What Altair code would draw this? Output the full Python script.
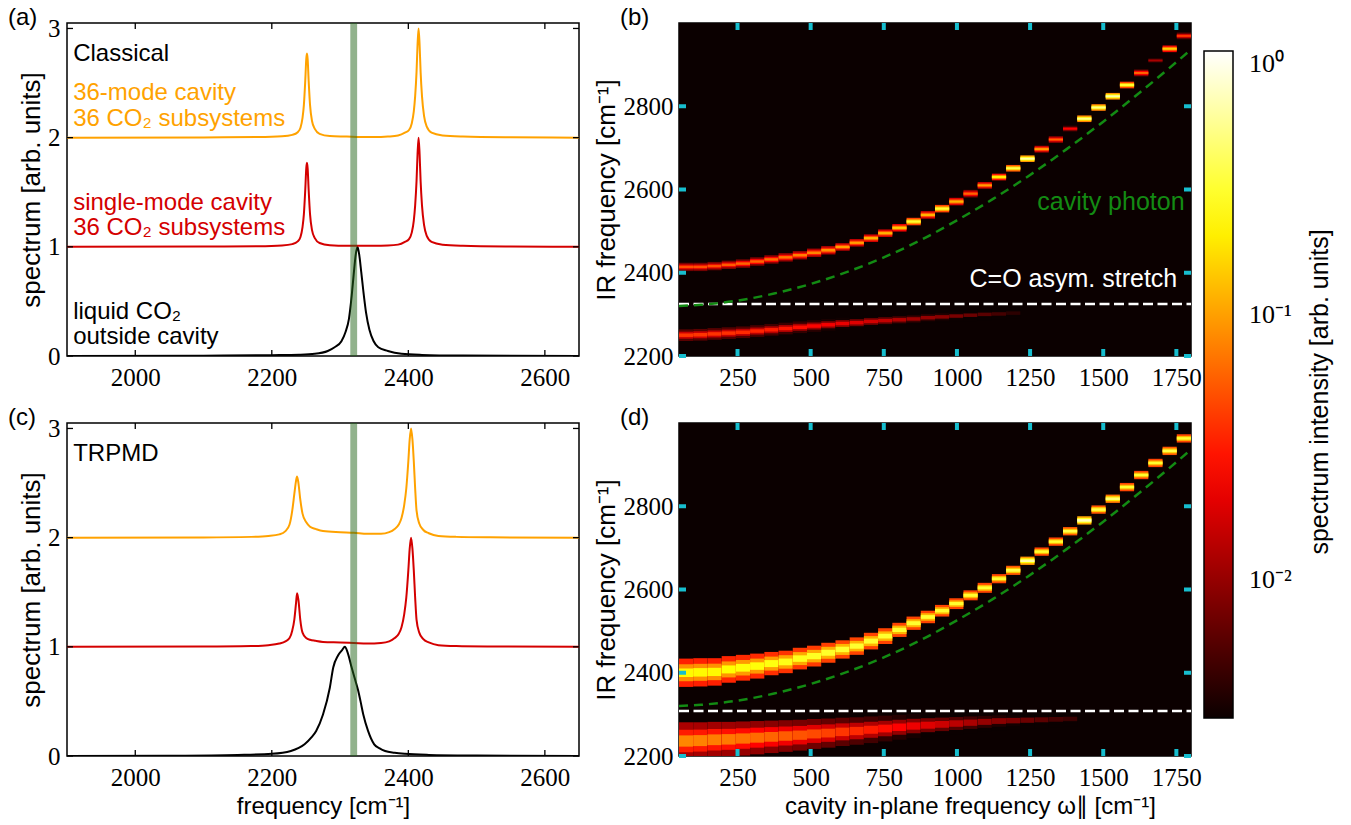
import altair as alt
import pandas as pd

SANS = "Liberation Sans"
SERIF = "Liberation Serif"
ORANGE = "#ffa200"
RED = "#d40000"
BAND = "#236519"
PHOTON = "#138a13"
CYAN = "#17becf"
BG = "#0b0000"
W, H = 512, 333

# ---------------- spectra: classical (a) ----------------
cl_liq_f = [1900, 2100, 2200, 2240, 2263, 2282, 2292, 2302, 2308, 2313, 2317, 2320, 2323, 2325.5,
            2328, 2331, 2334, 2338, 2343, 2349, 2356, 2370, 2390, 2420, 2480, 2650]
cl_liq_s = [0.0, 0.003, 0.008, 0.012, 0.02, 0.046, 0.08, 0.135, 0.22, 0.34, 0.55, 0.75, 0.93, 1.0,
            0.93, 0.77, 0.6, 0.4, 0.24, 0.137, 0.08, 0.046, 0.02, 0.01, 0.004, 0.0]

cl_pk_f = [1900, 2100, 2180, 2215, 2230, 2238, 2242, 2245, 2247, 2249, 2250.5, 2251.5, 2252.5, 2254,
           2256, 2259, 2263, 2270, 2285, 2310, 2330, 2350, 2370, 2385, 2395, 2401, 2405, 2408, 2410,
           2412, 2413.5, 2415, 2416.5, 2418, 2420, 2423, 2427, 2434, 2450, 2480, 2550, 2650]
cl_sgl_s = [1.0, 1.002, 1.005, 1.012, 1.025, 1.05, 1.09, 1.18, 1.3, 1.52, 1.72, 1.77, 1.72, 1.52,
            1.3, 1.15, 1.08, 1.035, 1.015, 1.01, 1.01, 1.01, 1.012, 1.02, 1.045, 1.07, 1.13, 1.24, 1.38,
            1.6, 1.85, 2.0, 1.85, 1.6, 1.38, 1.2, 1.1, 1.045, 1.02, 1.01, 1.003, 1.0]
cl_mul_s = [2.0, 2.002, 2.005, 2.012, 2.025, 2.05, 2.09, 2.18, 2.3, 2.52, 2.72, 2.77, 2.72, 2.52,
            2.3, 2.15, 2.08, 2.035, 2.015, 2.01, 2.005, 2.005, 2.01, 2.02, 2.045, 2.07, 2.13, 2.24, 2.38,
            2.6, 2.85, 3.0, 2.85, 2.6, 2.38, 2.2, 2.1, 2.045, 2.02, 2.01, 2.003, 2.0]

# ---------------- spectra: TRPMD (c) ----------------
tr_liq_f = [1900, 2050, 2150, 2200, 2228, 2248, 2258, 2265, 2275, 2285, 2290, 2297, 2303, 2307, 2311,
            2317, 2322, 2326.5, 2330, 2334, 2341, 2350, 2358, 2366, 2380, 2395, 2430, 2500, 2650]
tr_liq_s = [0.0, 0.003, 0.01, 0.02, 0.046, 0.107, 0.17, 0.23, 0.38, 0.625, 0.81, 0.92, 0.97, 1.0, 0.95,
            0.81, 0.7, 0.6, 0.5, 0.38, 0.23, 0.107, 0.07, 0.046, 0.03, 0.02, 0.01, 0.004, 0.0]

tr_pk_f = [1900, 2100, 2170, 2195, 2211, 2220, 2226, 2230, 2233, 2235.5, 2237, 2239, 2241.7, 2245, 2250.5,
           2256, 2264, 2275, 2300, 2320, 2340, 2360, 2372, 2380, 2386, 2390, 2394, 2397, 2400, 2402,
           2404, 2406, 2408, 2410, 2412, 2416, 2422, 2430, 2444, 2470, 2520, 2650]
tr_sgl_s = [1.0, 1.002, 1.007, 1.015, 1.03, 1.05, 1.08, 1.15, 1.25, 1.4, 1.49, 1.43, 1.25, 1.13, 1.08,
            1.065, 1.055, 1.045, 1.04, 1.035, 1.03, 1.035, 1.05, 1.08, 1.12, 1.18, 1.3, 1.45, 1.7, 1.9,
            2.0, 1.9, 1.7, 1.45, 1.25, 1.13, 1.07, 1.04, 1.015, 1.007, 1.003, 1.0]
tr_mul_s = [2.0, 2.002, 2.007, 2.015, 2.03, 2.06, 2.12, 2.25, 2.4, 2.52, 2.56, 2.5, 2.35, 2.22, 2.14,
            2.1, 2.08, 2.06, 2.05, 2.045, 2.035, 2.035, 2.05, 2.08, 2.12, 2.18, 2.3, 2.45, 2.7, 2.9,
            3.0, 2.9, 2.7, 2.45, 2.25, 2.13, 2.07, 2.04, 2.015, 2.007, 2.003, 2.0]

SPEC_X_DOM = [1900, 2650]
SPEC_Y_DOM = [0, 3.05]
spec_xticks = [2000, 2200, 2400, 2600]
spec_yticks = [0, 1, 2, 3]
band_lo, band_hi = 2315, 2325

# annotations (left edge frequency, baseline value, text)
notes_a = [
    (1909, 2.70, "Classical", "black"),
    (1909, 2.345, "36-mode cavity", ORANGE),
    (1909, 2.11, "36 CO\u2082 subsystems", ORANGE),
    (1909, 1.34, "single-mode cavity", RED),
    (1909, 1.11, "36 CO\u2082 subsystems", RED),
    (1909, 0.34, "liquid CO\u2082", "black"),
    (1909, 0.11, "outside cavity", "black"),
]
notes_c = [(1909, 2.70, "TRPMD", "black")]

# ---------------- heat maps ----------------
N_MODES = 36
CAV_DOM = [50, 1800]
IR_DOM = [2200, 3000]
cav_ticks = [250, 500, 750, 1000, 1250, 1500, 1750]
ir_ticks = [2200, 2400, 2600, 2800]

b_up_c = [2414, 2414, 2416, 2419, 2422, 2427, 2432, 2437, 2442, 2448, 2454, 2462, 2472, 2483, 2495, 2508,
          2523, 2539, 2554, 2571, 2590, 2610, 2630, 2651, 2674, 2697, 2720, 2746, 2770, 2797, 2824, 2851,
          2880, 2910, 2938, 2969]
b_up_i = [0.05, 0.05, 0.05, 0.055, 0.06, 0.06, 0.065, 0.07, 0.075, 0.08, 0.09, 0.1, 0.1, 0.12, 0.12, 0.15,
          0.3, 0.12, 0.3, 0.12, 0.06, 0.1, 0.2, 0.35, 0.6, 0.1, 0.06, 0.025, 0.5, 0.5, 0.6, 0.3,
          0.06, 0.012, 0.15, 0.04]
b_up_w = [10, 10, 10, 10, 10, 10, 10, 10, 10, 10, 10, 9, 9, 9, 9, 9, 9, 9, 9, 9, 9,
          8, 8, 8, 8, 8, 8, 8, 8, 8, 8, 8, 8, 8, 8, 8]

b_lo_c = [2250, 2251, 2253, 2255, 2257, 2260, 2263, 2266, 2269, 2272, 2275, 2278, 2280, 2283, 2285, 2287,
          2289, 2292, 2294, 2296, 2298, 2300, 2301, 2303]
b_lo_i = [0.04, 0.04, 0.039, 0.038, 0.036, 0.034, 0.032, 0.03, 0.028, 0.026, 0.023, 0.021, 0.019, 0.017,
          0.015, 0.013, 0.011, 0.01, 0.009, 0.008, 0.007, 0.006, 0.005, 0.004]
b_lo_w = [14] * 24

d_up_c = [2400, 2401, 2402, 2408, 2412, 2416, 2422, 2426, 2434, 2440, 2448, 2456, 2464, 2476, 2488, 2503,
          2519, 2534, 2549, 2566, 2586, 2604, 2626, 2646, 2669, 2691, 2715, 2740, 2766, 2792, 2818, 2846,
          2875, 2904, 2933, 2963]
d_up_i = [0.22, 0.22, 0.22, 0.23, 0.24, 0.24, 0.25, 0.26, 0.27, 0.28, 0.29, 0.3, 0.3, 0.3, 0.3, 0.3, 0.3,
          0.3, 0.3, 0.3, 0.3, 0.3, 0.3, 0.35, 0.6, 0.3, 0.3, 0.35, 0.7, 0.35, 0.45, 0.3, 0.3, 0.3, 0.35, 0.3]
d_up_w = [34, 34, 33, 32, 31, 30, 28, 27, 26, 25, 24, 22, 21, 20, 19, 17, 16, 15,
          14, 13, 12, 12, 11, 11, 10, 10, 10, 10, 10, 10, 10, 10, 10, 10, 10, 10]

d_lo_c = [2236, 2237, 2239, 2240, 2242, 2244, 2246, 2248, 2250, 2253, 2255, 2258, 2260, 2263, 2266, 2269,
          2272, 2274, 2276, 2278, 2280, 2282, 2284, 2285, 2286, 2287, 2288, 2289]
d_lo_i = [0.08, 0.078, 0.075, 0.072, 0.068, 0.064, 0.06, 0.056, 0.052, 0.048, 0.044, 0.04, 0.036, 0.032,
          0.028, 0.025, 0.022, 0.019, 0.016, 0.014, 0.012, 0.01, 0.009, 0.008, 0.007, 0.006, 0.005, 0.0045]
d_lo_w = [45, 44, 43, 42, 41, 40, 39, 38, 37, 36, 35, 34, 33, 32, 31, 30, 29, 28, 27, 26, 25, 24, 23, 22,
          21, 20, 19, 18]

photon_x = [50, 125, 250, 375, 500, 625, 750, 875, 1000, 1125, 1250, 1375, 1500, 1625, 1750, 1800]
photon_y = [2320, 2323, 2333, 2350, 2373, 2402, 2437, 2478, 2526, 2578, 2635, 2697, 2763, 2833, 2906, 2936]

stretch_b = 2325
stretch_d = 2308

notes_b = [(1778, 2550, "cavity photon", PHOTON), (1753, 2366, "C=O asym. stretch", "white")]

CB_DOMAIN = [0.003, 0.0253, 0.229, 1.0]
CB_RANGE = ["#0b0000", "#ff0000", "#ffff00", "#ffffff"]
cb_values = [0.01, 0.1, 1.0]
cb_title = "spectrum intensity [arb. units]"

# ---------------- helpers ----------------
def ax(values, title, **kw):
    d = dict(values=values, format="d", labelFont=SERIF, labelFontSize=25, labelColor="black",
             ticks=False, domain=False, grid=False, titleFont=SANS, titleFontSize=24,
             titleFontWeight="normal", titleColor="black")
    d.update(kw)
    if title is None:
        return alt.Axis(title=None, **d)
    return alt.Axis(title=title, **d)


def tick_layers(xvals, yvals, X, Y, color, width, length):
    tx = pd.DataFrame({"t": xvals})
    ty = pd.DataFrame({"t": yvals})
    m = dict(color=color, strokeWidth=width)
    return [
        alt.Chart(tx).mark_rule(**m).encode(x=X("t:Q"), y=alt.value(0), y2=alt.value(length)),
        alt.Chart(tx).mark_rule(**m).encode(x=X("t:Q"), y=alt.value(H), y2=alt.value(H - length)),
        alt.Chart(ty).mark_rule(**m).encode(y=Y("t:Q"), x=alt.value(0), x2=alt.value(length)),
        alt.Chart(ty).mark_rule(**m).encode(y=Y("t:Q"), x=alt.value(W), x2=alt.value(W - length)),
    ]


def free_text(text, x, y, size=24, **kw):
    return alt.Chart(pd.DataFrame({"t": [text]})).mark_text(font=SANS, fontSize=size, color="black", **kw).encode(
        text="t:N", x=alt.value(x), y=alt.value(y))


def spectrum_panel(curves, notes, label, xtitle):
    xs = alt.Scale(domain=SPEC_X_DOM, nice=False, zero=False)
    ys = alt.Scale(domain=SPEC_Y_DOM, nice=False, zero=False)
    xaxis = ax(spec_xticks, xtitle, labelPadding=9, titlePadding=4)
    yaxis = ax(spec_yticks, "spectrum [arb. units]", labelPadding=7, titlePadding=3, titleFontSize=26)

    def X(f):
        return alt.X(f, scale=xs, axis=xaxis)

    def Y(f):
        return alt.Y(f, scale=ys, axis=yaxis)

    layers = []
    for f, s, col in curves:
        df = pd.DataFrame({"f": f, "s": s})
        layers.append(alt.Chart(df).mark_line(color=col, strokeWidth=2, interpolate="monotone", clip=True)
                      .encode(x=X("f:Q"), y=Y("s:Q")))
    band = alt.Chart(pd.DataFrame({"f": [band_lo], "hi": [band_hi]})).mark_rect(
        color=BAND, opacity=0.5).encode(x=X("f:Q"), x2="hi:Q", y=alt.value(0), y2=alt.value(H))
    layers.append(band)
    for fx, sy, txt, col in notes:
        layers.append(alt.Chart(pd.DataFrame({"f": [fx], "s": [sy], "t": [txt]})).mark_text(
            font=SANS, fontSize=24, align="left", baseline="alphabetic", color=col)
            .encode(x=X("f:Q"), y=Y("s:Q"), text="t:N"))
    layers += tick_layers(spec_xticks, spec_yticks, X, Y, "black", 1.3, 6)
    layers.append(free_text(label, -59, -5, align="left", baseline="middle"))
    return alt.layer(*layers).properties(width=W, height=H)


def band_rows(centers, intens, widths):
    colw = (CAV_DOM[1] - CAV_DOM[0]) / N_MODES
    rows = []
    for i, (c, v, w) in enumerate(zip(centers, intens, widths)):
        x0 = CAV_DOM[0] + i * colw
        for frac, k in [(1.0, 0.15), (0.6, 0.4), (0.3, 1.0)]:
            rows.append(dict(x=x0, x1=x0 + colw, y=c - frac * w, y1=c + frac * w, v=v * k))
    return rows


color_scale = alt.Scale(type="log", domain=CB_DOMAIN, range=CB_RANGE, interpolate="rgb", clamp=True)
legend = alt.Legend(
    type="gradient", orient="none", legendX=1137, legendY=28, direction="vertical", gradientLength=667,
    gradientThickness=29, values=cb_values,
    labelExpr="datum.value >= 0.5 ? '10\u2070' : (datum.value >= 0.05 ? '10\u207b\u00b9' : '10\u207b\u00b2')",
    labelFont=SERIF, labelFontSize=26, labelColor="black", labelBaseline="middle", labelOffset=16,
    labelOverlap=False, title=None, gradientStrokeColor="black", gradientStrokeWidth=1.5,
)


def heat_panel(bands, stretch, notes, label, xtitle, extra=()):
    xs = alt.Scale(domain=CAV_DOM, nice=False, zero=False)
    ys = alt.Scale(domain=IR_DOM, nice=False, zero=False)
    xaxis = ax(cav_ticks, xtitle, labelPadding=9, titlePadding=4, titleX=291)
    yaxis = ax(ir_ticks, "IR frequency [cm\u207b\u00b9]", labelPadding=6, titlePadding=4, titleFontSize=26)

    def X(f):
        return alt.X(f, scale=xs, axis=xaxis)

    def Y(f):
        return alt.Y(f, scale=ys, axis=yaxis)

    rows = []
    for c, i, w in bands:
        rows += band_rows(c, i, w)
    df = pd.DataFrame(rows)
    bg = alt.Chart(pd.DataFrame({"d": [0]})).mark_rect(color=BG).encode(
        x=alt.value(0), x2=alt.value(W), y=alt.value(0), y2=alt.value(H))
    cells = alt.Chart(df).mark_rect(clip=True).encode(
        x=X("x:Q"), x2="x1:Q", y=Y("y:Q"), y2="y1:Q",
        color=alt.Color("v:Q", scale=color_scale, legend=legend))
    white = alt.Chart(pd.DataFrame({"y": [stretch]})).mark_rule(
        color="white", strokeWidth=2.5, strokeDash=[10, 4.5]).encode(
        y=Y("y:Q"), x=alt.value(0), x2=alt.value(W))
    photon = alt.Chart(pd.DataFrame({"x": photon_x, "y": photon_y})).mark_line(
        color=PHOTON, strokeWidth=2.5, strokeDash=[9, 6], interpolate="monotone", clip=True).encode(
        x=X("x:Q"), y=Y("y:Q"))
    layers = [bg, cells, white, photon]
    for fx, fy, txt, col in notes:
        layers.append(alt.Chart(pd.DataFrame({"x": [fx], "y": [fy], "t": [txt]})).mark_text(
            font=SANS, fontSize=25, align="right", baseline="alphabetic", color=col)
            .encode(x=X("x:Q"), y=Y("y:Q"), text="t:N"))
    layers += tick_layers(cav_ticks, ir_ticks, X, Y, CYAN, 4, 7)
    layers.append(free_text(label, -59, -5, align="left", baseline="middle"))
    layers += list(extra)
    return alt.layer(*layers).properties(width=W, height=H)


pa = spectrum_panel([(cl_liq_f, cl_liq_s, "black"), (cl_pk_f, cl_sgl_s, RED), (cl_pk_f, cl_mul_s, ORANGE)],
                    notes_a, "(a)", None)
pc = spectrum_panel([(tr_liq_f, tr_liq_s, "black"), (tr_pk_f, tr_sgl_s, RED), (tr_pk_f, tr_mul_s, ORANGE)],
                    notes_c, "(c)", "frequency [cm\u207b\u00b9]")
cb_label = free_text(cb_title, 641, 369, size=25, align="center", baseline="middle", angle=270)
pb = heat_panel([(b_up_c, b_up_i, b_up_w), (b_lo_c, b_lo_i, b_lo_w)], stretch_b, notes_b, "(b)", None,
                extra=[cb_label])
pd_ = heat_panel([(d_up_c, d_up_i, d_up_w), (d_lo_c, d_lo_i, d_lo_w)], stretch_d, [], "(d)",
                 "cavity in-plane frequency \u03c9\u2225 [cm\u207b\u00b9]")

chart = alt.concat(pa, pb, pc, pd_, columns=2, spacing={"row": 67, "column": 100}, bounds="flush",
                   padding={"left": 7, "top": 5, "right": 0, "bottom": 0}).resolve_scale(
    color="shared").configure_view(stroke="black", strokeWidth=1.5)

chart.save("out.html", embed_options={"renderer": "svg", "actions": False})
